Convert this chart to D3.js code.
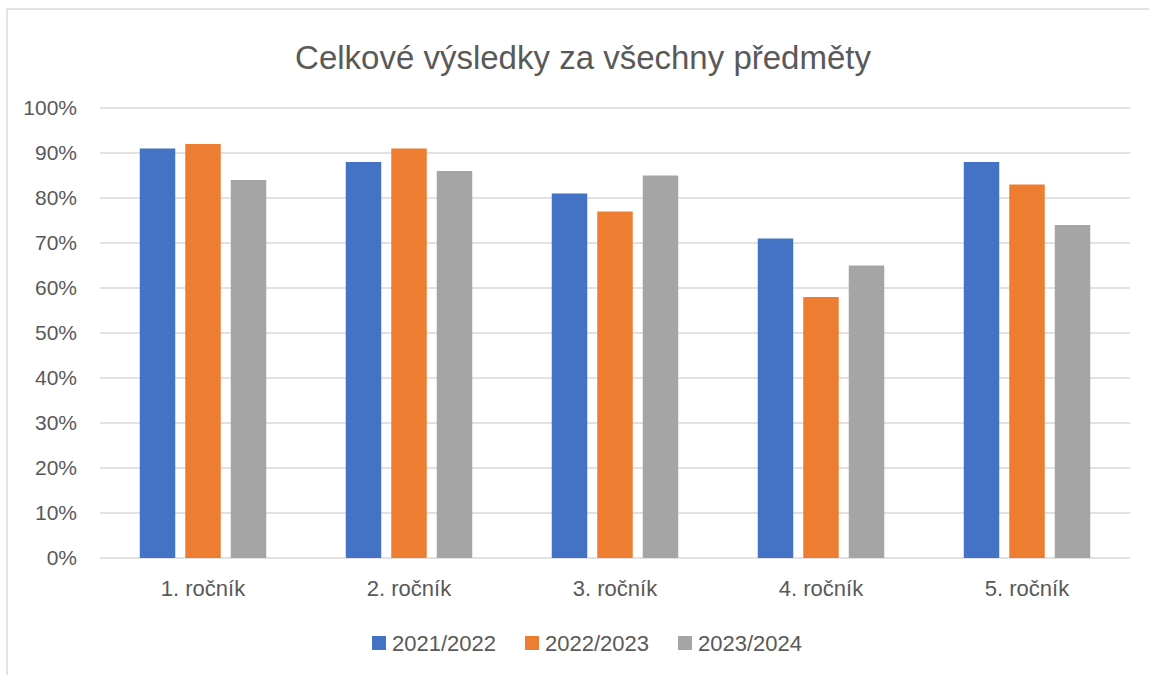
<!DOCTYPE html>
<html>
<head>
<meta charset="utf-8">
<script src="https://cdn.jsdelivr.net/npm/d3@7"></script>
<style>
  body { margin: 0; background: #fff; }
  svg text { font-family: "Liberation Sans", Arial, sans-serif; fill: #595959; }
</style>
</head>
<body>
<svg id="chart" width="1149" height="675"></svg>
<script>
  // Data
  var categories = ["1. ročník", "2. ročník", "3. ročník", "4. ročník", "5. ročník"];
  var seriesNames = ["2021/2022", "2022/2023", "2023/2024"];
  var s2122 = [0.91, 0.88, 0.81, 0.71, 0.88];
  var s2223 = [0.92, 0.91, 0.77, 0.58, 0.83];
  var s2324 = [0.84, 0.86, 0.85, 0.65, 0.74];
  var yTicks = [0, 0.1, 0.2, 0.3, 0.4, 0.5, 0.6, 0.7, 0.8, 0.9, 1.0];
  var colors = ["#4472C4", "#ED7D31", "#A5A5A5"];

  var seriesValues = [s2122, s2223, s2324];

  var svg = d3.select("#chart");

  // Plot area
  var plot = { left: 100, right: 1130, top: 108, bottom: 558 };

  // Chart frame (only left and top edges show in the picture)
  svg.append("path")
    .attr("d", d3.line()([[7, 675], [7, 9], [1149, 9]]))
    .attr("fill", "none")
    .attr("stroke", "#d9d9d9")
    .attr("stroke-width", 1.5);

  // Title
  svg.append("text")
    .attr("x", 583)
    .attr("y", 69)
    .attr("text-anchor", "middle")
    .style("font-size", "33px")
    .text("Celkové výsledky za všechny předměty");

  // Scales
  var x0 = d3.scaleBand()
    .domain(categories)
    .range([plot.left, plot.right])
    .padding(0);

  var x1 = d3.scaleBand()
    .domain(seriesNames)
    .range([0, x0.bandwidth()])
    .paddingInner(0.22)
    .paddingOuter(0.874);

  var y = d3.scaleLinear()
    .domain([0, 1])
    .range([plot.bottom, plot.top]);

  // Gridlines
  svg.append("g")
    .selectAll("line")
    .data(yTicks)
    .join("line")
    .attr("x1", plot.left)
    .attr("x2", plot.right)
    .attr("y1", function(d) { return y(d); })
    .attr("y2", function(d) { return y(d); })
    .attr("stroke", "#d9d9d9")
    .attr("stroke-width", 1.5);

  // Y axis labels
  var yAxis = d3.axisLeft(y)
    .tickValues(yTicks)
    .tickFormat(d3.format(".0%"))
    .tickSize(0)
    .tickPadding(0);

  svg.append("g")
    .attr("transform", "translate(77,0)")
    .call(yAxis)
    .call(function(g) { g.select(".domain").remove(); })
    .selectAll("text")
    .attr("fill", "#595959")
    .style("font-size", "21px")
    .style("font-family", "'Liberation Sans', Arial, sans-serif");

  // Bars
  var groups = svg.append("g")
    .selectAll("g")
    .data(categories)
    .join("g")
    .attr("transform", function(d) { return "translate(" + x0(d) + ",0)"; });

  groups.selectAll("rect")
    .data(function(d, i) {
      return seriesNames.map(function(s, j) {
        return { series: s, value: seriesValues[j][i], color: colors[j] };
      });
    })
    .join("rect")
    .attr("x", function(d) { return x1(d.series); })
    .attr("width", x1.bandwidth())
    .attr("y", function(d) { return y(d.value); })
    .attr("height", function(d) { return y(0) - y(d.value); })
    .attr("fill", function(d) { return d.color; });

  // X axis labels
  var xAxis = d3.axisBottom(x0)
    .tickSize(0)
    .tickPadding(0);

  svg.append("g")
    .attr("transform", "translate(0," + 580 + ")")
    .call(xAxis)
    .call(function(g) { g.select(".domain").remove(); })
    .selectAll("text")
    .attr("fill", "#595959")
    .style("font-size", "22px")
    .style("font-family", "'Liberation Sans', Arial, sans-serif");

  // Legend
  var legendX = [372, 525, 678];
  var legend = svg.append("g")
    .selectAll("g")
    .data(seriesNames)
    .join("g")
    .attr("transform", function(d, i) { return "translate(" + legendX[i] + ",636)"; });

  legend.append("rect")
    .attr("width", 14)
    .attr("height", 14)
    .attr("fill", function(d, i) { return colors[i]; });

  legend.append("text")
    .attr("x", 20)
    .attr("y", 15)
    .style("font-size", "22px")
    .text(function(d) { return d; });
</script>
</body>
</html>
